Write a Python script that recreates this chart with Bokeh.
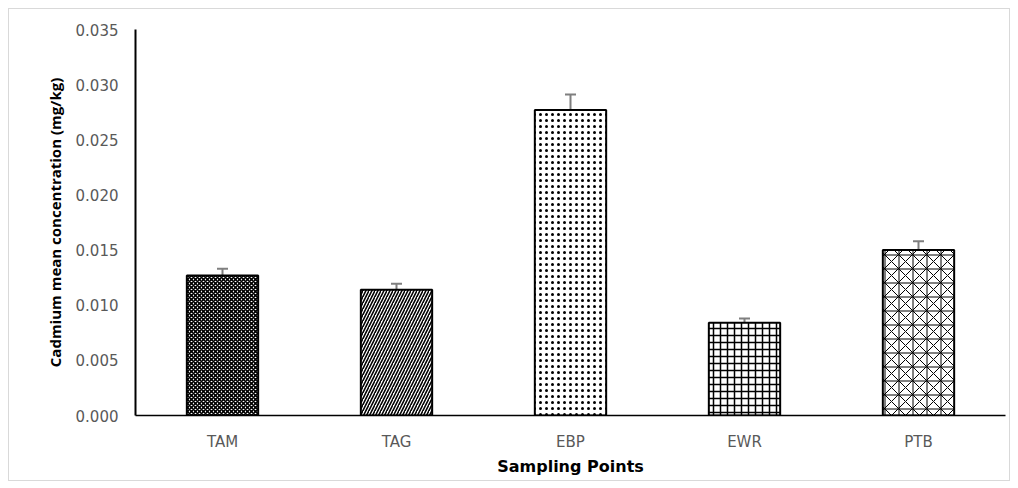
from bokeh.plotting import figure
from bokeh.models import (ColumnDataSource, FactorRange, Range1d, FixedTicker,
                          NumeralTickFormatter, Whisker, TeeHead)
from bokeh.embed import file_html
from bokeh.resources import INLINE

sites = ["TAM", "TAG", "EBP", "EWR", "PTB"]
means = [0.0127, 0.0114, 0.0277, 0.0084, 0.0150]
errors = [0.0006, 0.00055, 0.0014, 0.0004, 0.0008]
patterns = ["diagonal_cross", "right_diagonal_line", "dot", "cross", "criss_cross"]
y_ticks = [0.000, 0.005, 0.010, 0.015, 0.020, 0.025, 0.030, 0.035]

src = ColumnDataSource(dict(
    x=sites, top=means,
    upper=[m + e for m, e in zip(means, errors)],
    lower=[m - e for m, e in zip(means, errors)],
    hatch=patterns,
    hscale=[4, 6, 6, 7, 14],
    hweight=[1.6, 1.6, 3.6, 1.5, 1.0],
))

p = figure(width=1002, height=473, x_range=FactorRange(*sites),
           y_range=Range1d(0, 0.035), output_backend="svg",
           toolbar_location=None, min_border_left=126, min_border_right=6,
           min_border_top=20, min_border_bottom=67)
p.margin = (8, 0, 0, 8)
p.styles = {"border": "1px solid #d9d9d9"}
p.outline_line_color = None
p.xgrid.grid_line_color = None
p.ygrid.grid_line_color = None

p.vbar(x="x", top="top", width=0.41, source=src, fill_color="white",
       line_color="black", line_width=2, hatch_pattern="hatch",
       hatch_color="black", hatch_scale="hscale", hatch_weight="hweight")

w = Whisker(source=src, base="x", upper="upper", lower="lower",
            line_color="#7f7f7f", line_width=2,
            upper_head=TeeHead(size=11, line_color="#7f7f7f", line_width=2),
            lower_head=TeeHead(size=11, line_color="#7f7f7f", line_width=2))
p.add_layout(w)

p.yaxis.ticker = FixedTicker(ticks=y_ticks)
p.yaxis.formatter = NumeralTickFormatter(format="0.000")
for ax in (p.xaxis, p.yaxis):
    ax.major_tick_line_color = None
    ax.minor_tick_line_color = None
    ax.major_tick_out = 0
    ax.major_tick_in = 0
    ax.major_label_text_font = "DejaVu Sans"
    ax.major_label_text_font_size = "15px"
    ax.major_label_text_color = "#595959"
    ax.axis_label_text_font_style = "bold"
    ax.axis_label_text_color = "black"
    ax.axis_line_color = "black"

p.yaxis.axis_line_width = 2
p.xaxis.axis_line_width = 1.5
p.yaxis.major_label_standoff = 17
p.xaxis.major_label_standoff = 17
p.yaxis.axis_label = "Cadmium mean concentration (mg/kg)"
p.yaxis.axis_label_text_font = "Open Sans"
p.yaxis.axis_label_text_font_size = "15px"
p.yaxis.axis_label_standoff = 8
p.xaxis.axis_label = "Sampling Points"
p.xaxis.axis_label_text_font = "DejaVu Sans"
p.xaxis.axis_label_text_font_size = "16px"
p.xaxis.axis_label_standoff = 3

open("out.html", "w").write(file_html(p, INLINE))
